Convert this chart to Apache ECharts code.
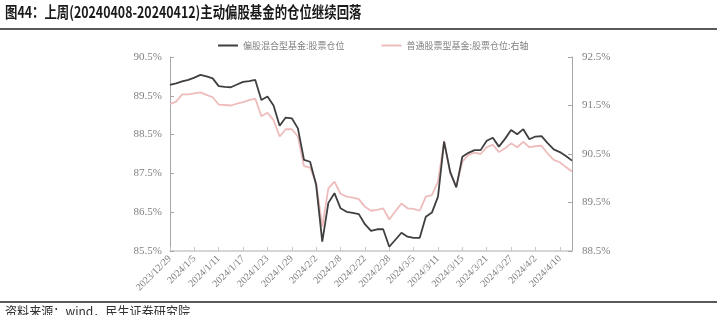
<!DOCTYPE html>
<html><head><meta charset="utf-8">
<script src="https://cdn.jsdelivr.net/npm/echarts@6/dist/echarts.min.js"></script>
<style>html,body{margin:0;padding:0;background:#fff}#c{width:717px;height:315px}</style>
</head><body><div id="c"></div>
<script>
const dates = ['2023/12/29','2024/1/2','2024/1/3','2024/1/4','2024/1/5','2024/1/8','2024/1/9','2024/1/10','2024/1/11','2024/1/12','2024/1/15','2024/1/16','2024/1/17','2024/1/18','2024/1/19','2024/1/22','2024/1/23','2024/1/24','2024/1/25','2024/1/26','2024/1/29','2024/1/30','2024/1/31','2024/2/1','2024/2/2','2024/2/5','2024/2/6','2024/2/7','2024/2/8','2024/2/19','2024/2/20','2024/2/21','2024/2/22','2024/2/23','2024/2/26','2024/2/27','2024/2/28','2024/2/29','2024/3/1','2024/3/4','2024/3/5','2024/3/6','2024/3/7','2024/3/8','2024/3/11','2024/3/12','2024/3/13','2024/3/14','2024/3/15','2024/3/18','2024/3/19','2024/3/20','2024/3/21','2024/3/22','2024/3/25','2024/3/26','2024/3/27','2024/3/28','2024/3/29','2024/4/1','2024/4/2','2024/4/3','2024/4/8','2024/4/9','2024/4/10','2024/4/11','2024/4/12'];
const mixedFund = [89.78,89.82,89.87,89.91,89.97,90.04,90.00,89.95,89.75,89.73,89.72,89.79,89.86,89.88,89.91,89.39,89.48,89.25,88.73,88.94,88.92,88.66,87.85,87.80,87.20,85.74,86.74,86.99,86.60,86.51,86.48,86.45,86.19,86.02,86.06,86.06,85.61,85.79,85.97,85.87,85.84,85.84,86.38,86.49,86.90,88.32,87.54,87.14,87.93,88.03,88.10,88.10,88.34,88.42,88.19,88.39,88.62,88.51,88.64,88.38,88.45,88.46,88.28,88.12,88.05,87.95,87.83];
const stockFund = [91.53,91.58,91.73,91.73,91.75,91.77,91.72,91.67,91.52,91.51,91.50,91.54,91.57,91.61,91.64,91.28,91.35,91.20,90.86,91.01,91.01,90.86,90.25,90.22,89.90,89.00,89.79,89.93,89.68,89.62,89.60,89.57,89.41,89.33,89.35,89.38,89.15,89.32,89.48,89.38,89.37,89.33,89.62,89.65,89.93,90.77,90.10,89.83,90.34,90.48,90.53,90.50,90.64,90.69,90.54,90.62,90.72,90.64,90.75,90.64,90.66,90.67,90.51,90.38,90.33,90.23,90.14];
const seriesNames = ['偏股混合型基金:股票仓位','普通股票型基金:股票仓位:右轴'];
const titleText = '图44：上周(20240408-20240412)主动偏股基金的仓位继续回落';
const sourceText = '资料来源：wind，民生证券研究院';

const chart = echarts.init(document.getElementById('c'), null, {renderer:'canvas'});
const serif = '"Liberation Serif","DejaVu Serif",serif';
const axisLabelStyle = {color:'#7f7f7f', fontFamily:serif, fontSize:11};
chart.setOption({
  animation:false,
  graphic:[
    {type:'text', x:5, y:4, scaleX:0.8, style:{text:titleText, font:'bold 15.5px "Noto Sans CJK SC", sans-serif', fill:'#1a1a1a'}},
    {type:'rect', shape:{x:0,y:28,width:717,height:2}, style:{fill:'#5a5a5a'}},
    {type:'rect', shape:{x:0,y:301,width:717,height:2}, style:{fill:'#5a5a5a'}},
    {type:'text', x:5, y:305, scaleX:0.93, style:{text:sourceText, font:'13px "Noto Sans CJK SC", sans-serif', fill:'#333'}}
  ],
  legend:{
    top:36, left:213, itemGap:37, itemWidth:20, itemHeight:2,
    icon:'rect',
    textStyle:{color:'#808080', fontSize:9, fontFamily:'"Noto Sans CJK SC", serif'},
    data:seriesNames
  },
  grid:{left:170, right:145, top:57, bottom:64},
  xAxis:{
    type:'category', data:dates, boundaryGap:false,
    axisLine:{lineStyle:{color:'#c8c8c8', width:1.5}},
    axisTick:{inside:true, interval:3, length:4, lineStyle:{color:'#c8c8c8'}},
    axisLabel:{interval:3, rotate:45, color:'#7f7f7f', fontFamily:serif, fontSize:10, margin:6}
  },
  yAxis:[
    {type:'value', min:85.5, max:90.5, interval:1, position:'left',
     axisLine:{show:true, lineStyle:{color:'#a6a6a6'}},
     axisTick:{show:true, inside:true, length:4, lineStyle:{color:'#a6a6a6'}},
     splitLine:{show:false},
     axisLabel:Object.assign({formatter:v=>v.toFixed(1)+'%', margin:8}, axisLabelStyle)},
    {type:'value', min:88.5, max:92.5, interval:1, position:'right',
     axisLine:{show:true, lineStyle:{color:'#a6a6a6'}},
     axisTick:{show:true, inside:true, length:4, lineStyle:{color:'#a6a6a6'}},
     splitLine:{show:false},
     axisLabel:Object.assign({formatter:v=>v.toFixed(1)+'%', margin:10}, axisLabelStyle)}
  ],
  series:[
    {name:seriesNames[0], type:'line', data:mixedFund, yAxisIndex:0, symbol:'none',
     lineStyle:{color:'#3f3f3f', width:1.8}, itemStyle:{color:'#3f3f3f'}, z:3},
    {name:seriesNames[1], type:'line', data:stockFund, yAxisIndex:1, symbol:'none',
     lineStyle:{color:'#eebcbc', width:1.8}, itemStyle:{color:'#eebcbc'}, z:2}
  ]
});
</script></body></html>
